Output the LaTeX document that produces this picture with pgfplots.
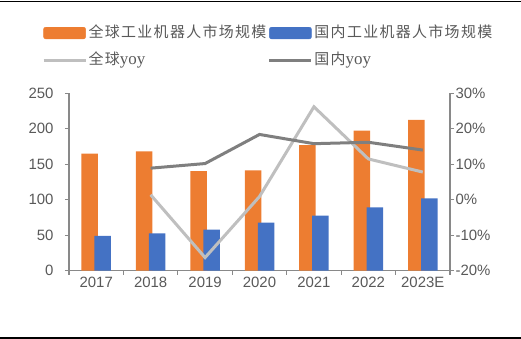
\documentclass[border=0pt]{standalone}
\usepackage{pgfplots}
\pgfplotsset{compat=1.18}
\usepackage{fontspec}
\setmainfont{Liberation Sans}
\newfontfamily\cjk{Noto Sans CJK SC}[LetterSpace=9]
\newfontfamily\serifl{Liberation Serif}
\definecolor{orangeb}{HTML}{ED7D31}
\definecolor{blueb}{HTML}{4472C4}
\definecolor{lgray}{HTML}{BFBFBF}
\definecolor{dgray}{HTML}{7F7F7F}
\definecolor{axisgray}{HTML}{898989}
\definecolor{textgray}{HTML}{595959}
\pgfplotsset{
  common/.style={
    at={(69bp,68.3bp)}, anchor=south west, scale only axis,
    width=381bp, height=177.4bp, xmin=-0.5, xmax=6.5,
    axis line style={draw=axisgray, line width=1.2bp, -},
    tick style={draw=axisgray, line width=1.2bp},
    tick align=outside, major tick length=4bp,
    /pgf/number format/assume math mode=true,
    tick label style={font=\fontsize{15}{18}\selectfont, text=textgray},
  },
  linelegend/.style={legend image code/.code={\draw[##1] (0bp,0bp) -- (42bp,0bp);}},
  orangelegend/.style={legend image code/.code={\fill[orangeb, rounded corners=2bp] (0bp,-5.8bp) rectangle (42bp,5.8bp);}},
  bluelegend/.style={legend image code/.code={\fill[blueb, rounded corners=2bp] (0bp,-5.8bp) rectangle (42bp,5.8bp);}},
}
\begin{document}
\begin{tikzpicture}
\useasboundingbox (0,0) rectangle (521bp,339bp);
\draw[black, line width=1.5bp] (0,337.5bp) -- (521bp,337.5bp);
\draw[black, line width=2bp] (0,1.2bp) -- (521bp,1.2bp);
\begin{axis}[common,
  ymin=0, ymax=250,
  axis y line*=left, axis x line*=bottom,
  ytick={0,50,...,250},
  xtick={-0.5,0.5,...,6.5}, xticklabels={},
  extra x ticks={0,1,2,3,4,5,6},
  extra x tick labels={2017,2018,2019,2020,2021,2022,2023E},
  extra x tick style={major tick length=0pt},
  yticklabel style={xshift=-8bp},
  xticklabel style={yshift=-3bp},
]
\addplot[ybar, bar width=16.5bp, bar shift=-6.5bp, fill=orangeb, draw=none]
  coordinates {(0,165) (1,168) (2,140.5) (3,141.5) (4,177) (5,197.3) (6,212.4)};
\addplot[ybar, bar width=16.5bp, bar shift=6.5bp, fill=blueb, draw=none]
  coordinates {(0,48.9) (1,52.7) (2,57.8) (3,67.7) (4,77.5) (5,89.3) (6,102)};
\end{axis}
\begin{axis}[common,
  ymin=-20, ymax=30,
  axis y line*=right, axis x line=none,
  ytick={-20,-10,...,30},
  yticklabel={\pgfmathprintnumber{\tick}\%},
  yticklabel style={xshift=-2bp},
  legend columns=2,
  legend cell align=left,
  legend style={at={(-0.079,1.40)}, anchor=north west, draw=none, fill=none,
    font=\fontsize{15}{17}\selectfont, text=textgray,
    nodes={inner sep=1.5bp, text height=11bp, text depth=3bp},
    row sep=10bp, column sep=0bp},
]
\addlegendimage{orangelegend}
\addlegendentry{\cjk 全球工业机器人市场规模}
\addlegendimage{bluelegend}
\addlegendentry{\cjk 国内工业机器人市场规模}
\addplot[lgray, line width=3bp, linelegend]
  coordinates {(1,1.4) (2,-16.3) (3,0.9) (4,26.2) (5,11.5) (6,7.8)};
\addlegendentry{{\cjk 全球}{\serifl\fontsize{17}{17}\selectfont yoy}}
\addplot[dgray, line width=3bp, linelegend]
  coordinates {(1,8.9) (2,10.2) (3,18.4) (4,15.8) (5,16.2) (6,14.0)};
\addlegendentry{{\cjk 国内}{\serifl\fontsize{17}{17}\selectfont yoy}}
\end{axis}
\end{tikzpicture}
\end{document}
